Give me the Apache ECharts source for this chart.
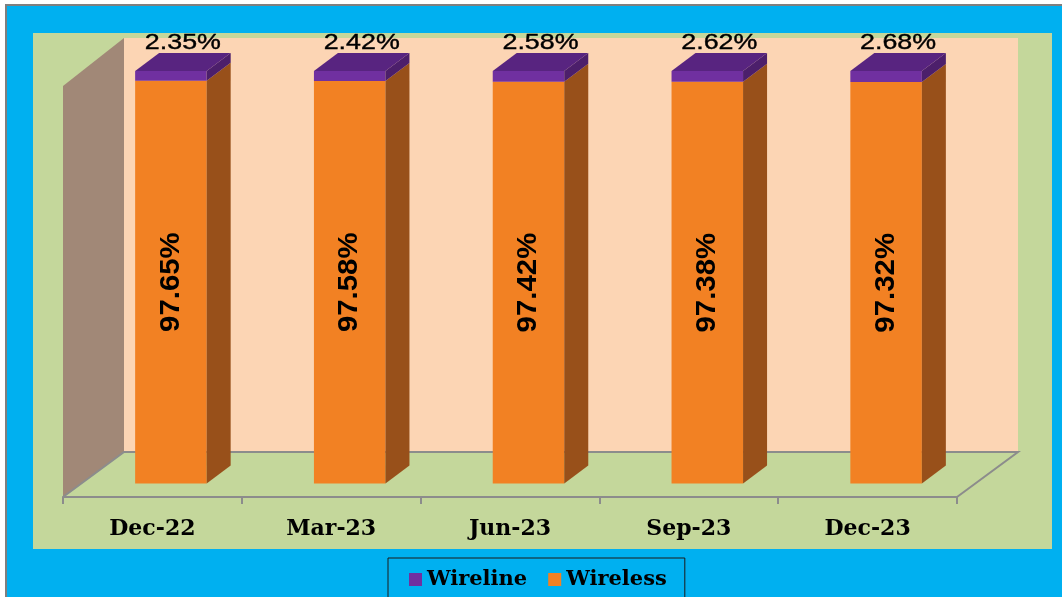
<!DOCTYPE html>
<html>
<head>
<meta charset="utf-8">
<script src="https://cdn.jsdelivr.net/npm/echarts@6/dist/echarts.min.js"></script>
<style>
  html, body { margin: 0; padding: 0; background: #fff; }
  #main { width: 1062px; height: 597px; }
</style>
</head>
<body>
<div id="main"></div>
<script>
// data
let categories = ['Dec-22', 'Mar-23', 'Jun-23', 'Sep-23', 'Dec-23'];
let wireless = [97.65, 97.58, 97.42, 97.38, 97.32];
let wireline = [2.35, 2.42, 2.58, 2.62, 2.68];

// 3d look: floor front edge, floor depth and bar depth in px
let floorFront = { left: 63, right: 957, y: 497 };
let floorDepth = [61, -45];
let barDepth = [24, -18];
let wallTop = 38;
let barRatio = 0.4;

let colors = {
    blue: '#00B0F0', green: '#C4D79B', peach: '#FCD5B4', wall: '#A18877', grid: '#8C8C8C',
    orange: '#F28123', orangeSide: '#98501A',
    purple: '#7030A0', purpleTop: '#582480', purpleSide: '#4C1F6B'
};

let W = 1062, H = 597;
let barShift = [(floorDepth[0] - barDepth[0]) / 2, (floorDepth[1] - barDepth[1]) / 2];

let makeBar = function(front, side, top, label){
    return function(params, api){
        let i = api.value(0), v0 = api.value(1), v1 = api.value(2);
        let pb = api.coord([i, v0]), pt = api.coord([i, v1]);
        let w = api.size([1, 0])[0] * barRatio;
        let x0 = pb[0] - w / 2, x1 = pb[0] + w / 2;
        let dx = barDepth[0], dy = barDepth[1];
        let kids = [
            {type: 'rect', shape: {x: x0, y: pt[1], width: w, height: pb[1] - pt[1]}, style: {fill: front}},
            {type: 'polygon', shape: {points: [[x1, pb[1]], [x1 + dx, pb[1] + dy], [x1 + dx, pt[1] + dy], [x1, pt[1]]]}, style: {fill: side}}
        ];
        if (top) {
            kids.push({type: 'polygon', shape: {points: [[x0, pt[1]], [x0 + dx, pt[1] + dy], [x1 + dx, pt[1] + dy], [x1, pt[1]]]}, style: {fill: top}});
        }
        kids.push(label(pb, pt, api));
        return {type: 'group', children: kids};
    };
};

let insideLabel = function(pb, pt, api){
    return {
        type: 'text', x: pb[0], y: (pb[1] + pt[1]) / 2, rotation: Math.PI / 2, scaleX: 1.05,
        style: {text: wireless[api.value(0)].toFixed(2) + '%', fontFamily: 'Liberation Sans', fontWeight: 'bold',
            fontSize: 28, fill: '#000', align: 'center', verticalAlign: 'middle'}
    };
};
let topLabel = function(pb, pt, api){
    return {
        type: 'text', x: pb[0] + barDepth[0] / 2, y: pt[1] + barDepth[1] - 10, scaleX: 1.22,
        style: {text: wireline[api.value(0)].toFixed(2) + '%', fontFamily: 'Liberation Sans',
            fontSize: 22, fill: '#000', stroke: '#000', lineWidth: 0.4, align: 'center', verticalAlign: 'middle'}
    };
};

let wirelessData = wireless.map((v, i) => [i, 0, v]);
let wirelineData = wireline.map((v, i) => [i, wireless[i], wireless[i] + v]);

let fl = floorFront.left, fr = floorFront.right, fy = floorFront.y;
let bx = floorDepth[0], by = floorDepth[1];
let gridLine = {stroke: colors.grid, lineWidth: 2};

let chart = echarts.init(document.getElementById('main'));
chart.setOption({
    animation: false,
    graphic: [
        {type: 'rect', z: -10, shape: {x: 5, y: 4, width: W, height: H}, style: {fill: '#7F7F7F'}},
        {type: 'rect', z: -9, shape: {x: 7, y: 6, width: W, height: H}, style: {fill: colors.blue}},
        {type: 'rect', z: -8, shape: {x: 33, y: 33, width: 1019, height: 516}, style: {fill: colors.green}},
        {type: 'rect', z: -7, shape: {x: fl + bx, y: wallTop, width: fr - fl, height: fy + by - wallTop}, style: {fill: colors.peach}},
        {type: 'polygon', z: -6, shape: {points: [[fl, wallTop + 48], [fl + bx, wallTop], [fl + bx, fy + by], [fl, fy]]}, style: {fill: colors.wall}},
        {type: 'polyline', z: -5, shape: {points: [[fl, fy], [fl + bx, fy + by], [fr + bx, fy + by], [fr, fy]]}, style: gridLine}
    ],
    legend: {
        data: ['Wireline', 'Wireless'],
        left: 388, top: 558,
        padding: [11, 18, 30, 21],
        itemGap: 21, itemWidth: 13, itemHeight: 13, icon: 'rect',
        borderColor: '#1a1a1a', borderWidth: 1,
        textStyle: {fontFamily: 'DejaVu Serif', fontWeight: 'bold', fontSize: 21, color: '#000'}
    },
    grid: [
        {left: fl + barShift[0], right: W - fr - barShift[0], top: 71, bottom: H - (fy + barShift[1])},
        {left: fl, right: W - fr, top: 71, bottom: H - fy}
    ],
    xAxis: [
        {type: 'category', data: categories, gridIndex: 0, show: false},
        {type: 'category', data: categories, gridIndex: 1, boundaryGap: true,
            axisLine: {show: true, lineStyle: {color: colors.grid, width: 2}},
            axisTick: {show: true, alignWithLabel: false, interval: 0, length: 7, lineStyle: {color: colors.grid, width: 2}},
            axisLabel: {margin: 21, color: '#000', fontFamily: 'DejaVu Serif', fontWeight: 'bold', fontSize: 22}}
    ],
    yAxis: [
        {type: 'value', min: 0, max: 100, gridIndex: 0, show: false},
        {type: 'value', min: 0, max: 100, gridIndex: 1, show: false}
    ],
    series: [
        {name: 'Wireless', type: 'custom', z: 5, itemStyle: {color: colors.orange},
            renderItem: makeBar(colors.orange, colors.orangeSide, null, insideLabel),
            encode: {x: 0, y: [1, 2]}, data: wirelessData},
        {name: 'Wireline', type: 'custom', z: 5, itemStyle: {color: colors.purple},
            renderItem: makeBar(colors.purple, colors.purpleSide, colors.purpleTop, topLabel),
            encode: {x: 0, y: [1, 2]}, data: wirelineData}
    ]
});
</script>
</body>
</html>
